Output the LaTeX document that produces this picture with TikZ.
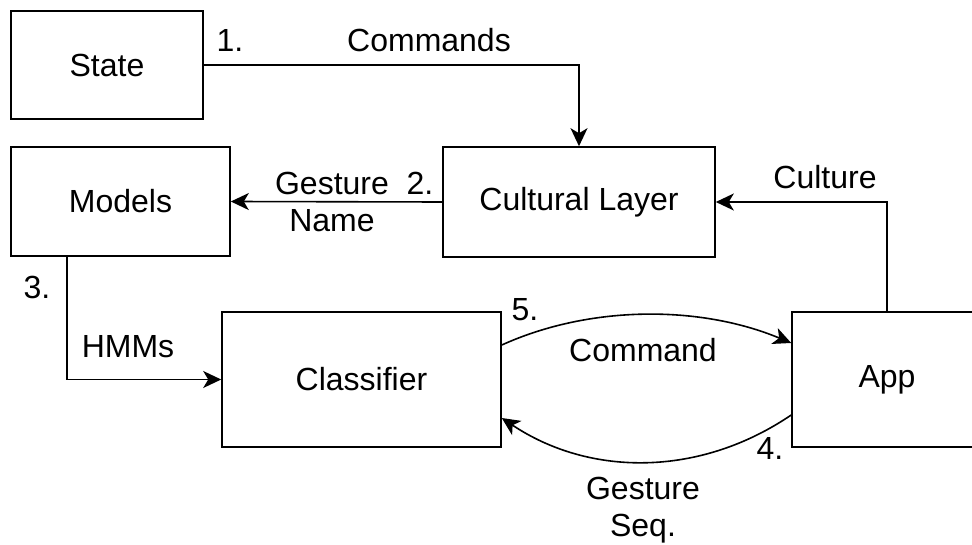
\documentclass[tikz,border=0pt]{standalone}
\usepackage{fontspec}
\setmainfont{Liberation Sans}
\usetikzlibrary{arrows.meta}

\begin{document}
\begin{tikzpicture}[x = 1pt, y = -1pt, line width = 1.6pt,
		every node/.style = {font = \fontsize{32}{37}\selectfont},
		box/.style = {draw, inner sep = 0pt},
		flow/.style = {-{Stealth[length = 18pt, width = 17pt, inset = 5pt]}}]
	\useasboundingbox (0, 0) rectangle (972, 545);
	\clip (0, 0) rectangle (972, 545);
	\node[box, minimum width = 192pt, minimum height = 108pt] (state) at (107, 65) {State};
	\node[box, minimum width = 219pt, minimum height = 109pt] (models) at (120.5, 201.5) {Models};
	\node[box, minimum width = 272pt, minimum height = 110pt] (cultural) at (579, 202) {Cultural Layer};
	\node[box, minimum width = 279pt, minimum height = 135pt] (classifier) at (361.5, 379.5) {Classifier};
	\node[box, minimum width = 190pt, minimum height = 135pt] (app) at (887, 379.5) {App};
	\draw[flow] (state.east) -| (cultural.north);
	\draw[flow] (cultural.west) -- (models.east);
	\draw[flow] (app.north) |- (cultural.east);
	\draw[flow] ([xshift = -53.5pt]models.south) |- (classifier.west);
	\draw[flow] ([yshift = 34.5pt]classifier.east) .. controls (590, 305) and (700, 305) .. ([yshift = 36.5pt]app.west);
	\draw[flow] ([yshift = -35.5pt]app.west) .. controls (700, 477) and (590, 477) .. ([yshift = -38.5pt]classifier.east);
	\node (one) at (230, 40) {1.};
	\node (commands) at (429, 40) {Commands};
	\node (two) at (420, 183) {2.};
	\node[align = center] (gname) at (332, 202) {Gesture\\Name};
	\node (culture) at (825, 177) {Culture};
	\node (three) at (37, 287) {3.};
	\node (hmms) at (128, 347) {HMMs};
	\node (five) at (525, 310) {5.};
	\node (command) at (643, 350) {Command};
	\node (four) at (770, 448) {4.};
	\node[align = center] (gseq) at (643, 510) {Gesture\\Seq.};
\end{tikzpicture}
\end{document}
